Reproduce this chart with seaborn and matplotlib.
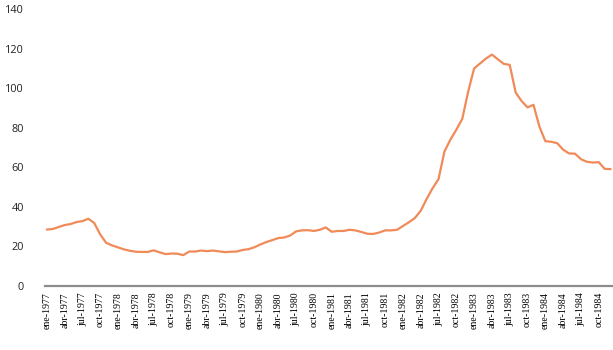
import pandas as pd
import matplotlib
matplotlib.use('Agg')
import matplotlib.pyplot as plt
import seaborn as sns

meses = ['ene', 'feb', 'mar', 'abr', 'may', 'jun', 'jul', 'ago', 'sep', 'oct', 'nov', 'dic']
anios = list(range(1977, 1985))
etiquetas = [f'{m}-{a}' for a in anios for m in meses]

valores = [
    28.5, 28.8, 29.8, 30.8, 31.3, 32.3, 32.8, 34.0, 31.8, 26.0, 21.8, 20.5,
    19.5, 18.5, 17.8, 17.3, 17.2, 17.2, 18.0, 17.0, 16.1, 16.4, 16.3, 15.6,
    17.4, 17.4, 17.9, 17.6, 17.9, 17.5, 17.1, 17.3, 17.4, 18.2, 18.6, 19.6,
    21.0, 22.2, 23.2, 24.2, 24.5, 25.5, 27.6, 28.1, 28.2, 27.8, 28.4, 29.6,
    27.4, 27.8, 27.8, 28.4, 28.1, 27.3, 26.4, 26.3, 27.0, 28.1, 28.1, 28.4,
    30.3, 32.2, 34.3, 38.0, 44.0, 49.4, 54.0, 68.0, 74.0, 79.0, 84.5, 98.3,
    110.0, 112.5, 115.0, 117.0, 114.6, 112.3, 111.8, 97.8, 93.5, 90.3, 91.6, 80.6,
    73.2, 72.9, 72.2, 68.9, 67.0, 66.9, 64.1, 62.8, 62.4, 62.6, 59.2, 59.1,
]

df = pd.DataFrame({'pos': range(len(valores)), 'valor': valores, 'mes': etiquetas})

sns.set_style('white')

fig = plt.figure(figsize=(6.13, 3.5), dpi=100)
ax = fig.add_axes([0.073, 0.183, 0.927, 0.791])

sns.lineplot(data=df, x='pos', y='valor', ax=ax, color='#F08A58', linewidth=1.6)

ax.set_xlim(-0.35, 95.4)
ax.set_ylim(0, 140)
ax.set_yticks(range(0, 141, 20))
ax.set_xticks(df['pos'][::3])
ax.set_xticklabels(df['mes'][::3], rotation=90, family='Liberation Serif', fontsize=7.1)
for lbl in ax.get_yticklabels():
    lbl.set_family('Open Sans')
    lbl.set_fontsize(7.8)
    lbl.set_color('#222222')
ax.tick_params(axis='y', length=0, pad=15)
ax.tick_params(axis='x', length=0, pad=4.5, colors='#000000')
ax.set_xlabel('')
ax.set_ylabel('')

for s in ['top', 'right', 'left']:
    ax.spines[s].set_visible(False)
ax.spines['bottom'].set_color('#8c8c8c')
ax.spines['bottom'].set_linewidth(1.6)

fig.savefig('out.png', dpi=100)
